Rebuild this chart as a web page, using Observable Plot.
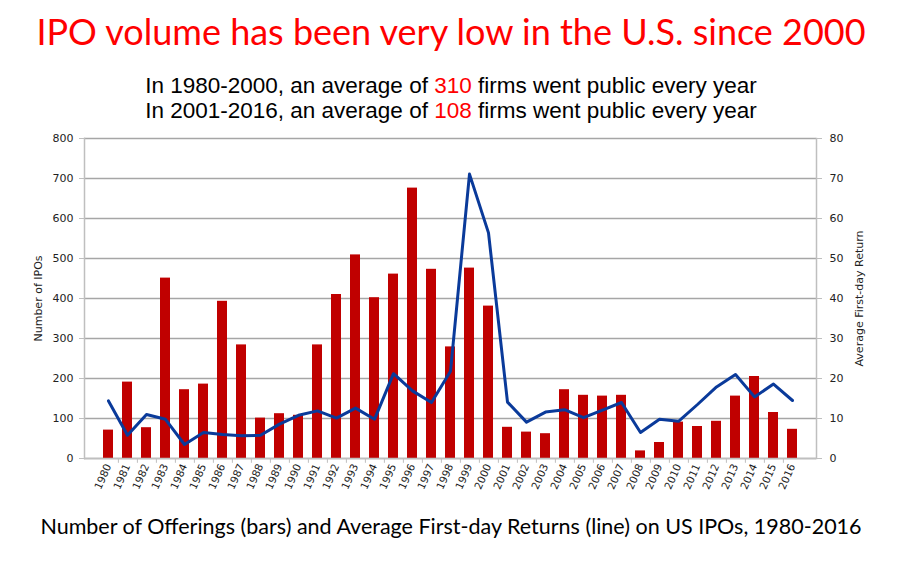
<!DOCTYPE html>
<html>
<head>
<meta charset="utf-8">
<script src="https://cdn.jsdelivr.net/npm/d3@7"></script>
<script src="https://cdn.jsdelivr.net/npm/@observablehq/plot@0.6"></script>
<style>
  html, body { margin: 0; padding: 0; background: #fff; }
  #wrap { position: relative; width: 902px; height: 564px; overflow: hidden; }
  #title { position: absolute; left: 0; width: 902px; top: 9px; text-align: center;
           font-family: Lato, sans-serif; font-size: 36px; color: #ff0000; white-space: nowrap; }
  #sub { position: absolute; left: 0; width: 902px; top: 73px; text-align: center;
         font-family: "Liberation Sans", Arial, sans-serif; font-size: 22.5px; line-height: 25px; color: #000; }
  #sub .r { color: #ff0000; }
  #chart { position: absolute; left: 0; top: 125px; }
  #cap { position: absolute; left: 0; width: 902px; top: 513px; text-align: center;
         font-family: Lato, sans-serif; font-size: 21.5px; color: #000; white-space: nowrap; }
</style>
</head>
<body>
<div id="wrap">
  <div id="title">IPO volume has been very low in the U.S. since 2000</div>
  <div id="sub">
    <div>In 1980-2000, an average of <span class="r">310</span> firms went public every year</div>
    <div>In 2001-2016, an average of <span class="r">108</span> firms went public every year</div>
  </div>
  <div id="chart"></div>
  <div id="cap">Number of Offerings (bars) and Average First-day Returns (line) on US IPOs, 1980-2016</div>
</div>
<script>
const years = [1980,1981,1982,1983,1984,1985,1986,1987,1988,1989,1990,1991,1992,1993,1994,1995,1996,1997,1998,1999,2000,2001,2002,2003,2004,2005,2006,2007,2008,2009,2010,2011,2012,2013,2014,2015,2016];
const ipoCounts = [71,191,77,451,172,186,393,284,101,112,108,284,410,509,402,461,676,473,279,476,381,78,66,62,172,158,156,158,19,40,91,80,93,156,205,115,73];
const firstDayReturns = [14.4,5.8,11.0,9.8,3.5,6.5,6.0,5.7,5.8,8.6,10.8,11.9,10.1,12.6,9.8,21.2,16.9,14.0,21.8,71.1,56.4,14.1,9.1,11.6,12.2,10.2,12.1,14.0,6.5,9.8,9.3,13.5,17.9,21.0,15.4,18.6,14.5];
const leftTicks = [0,100,200,300,400,500,600,700,800];
const rightTicks = [0,10,20,30,40,50,60,70,80];

const ratio = 10; // right axis 0-80 maps onto left axis 0-800
const rows = years.map((y, i) => ({year: String(y), count: ipoCounts[i], ret: firstDayReturns[i]}));
const yearStr = years.map(String);

const gridColor = "#a6a6a6";
const axisColor = "#bfbfbf";
const plot = Plot.plot({
  width: 902,
  height: 390,
  marginLeft: 84,
  marginRight: 86,
  marginTop: 13,
  marginBottom: 57,
  style: {fontFamily: "DejaVu Sans, sans-serif", fontSize: "11px", color: "#222", background: "transparent"},
  x: {type: "band", domain: yearStr, paddingInner: 0.45, paddingOuter: 0.225},
  y: {domain: [0, 800]},
  marks: [
    Plot.gridY(leftTicks, {stroke: gridColor, strokeOpacity: 1, strokeWidth: 1.3}),
    Plot.barY(rows, {x: "year", y: "count", fill: "#c00000"}),
    Plot.line(rows, {x: "year", y: d => d.ret * ratio, stroke: "#0a3a9a", strokeWidth: 3, strokeLinejoin: "round"}),
    Plot.ruleY([0], {stroke: axisColor, strokeWidth: 1.5}),
    Plot.frame({anchor: "left", stroke: axisColor, strokeWidth: 1.5}),
    Plot.frame({anchor: "right", stroke: axisColor, strokeWidth: 1.5}),
    Plot.axisY(leftTicks, {anchor: "left", tickSize: 5, tickPadding: 6, stroke: axisColor, fill: "#222", fontSize: 11,
      label: "Number of IPOs", labelAnchor: "center", labelArrow: "none", labelOffset: 50}),
    Plot.axisY(rightTicks.map(d => d * ratio), {anchor: "right", tickSize: 5, tickPadding: 8, stroke: axisColor, fill: "#222", fontSize: 11,
      tickFormat: d => String(d / ratio),
      label: "Average First-day Return", labelAnchor: "center", labelArrow: "none", labelOffset: 46}),
    Plot.axisX(yearStr, {tickSize: 0, tickRotate: -66, tickPadding: 6, fill: "#222", fontSize: 10.5, label: null}),
    Plot.ruleX(yearStr.slice(0, -1), {x: d => d, dx: 732 / 37 / 2, y1: 0, y2: -12, stroke: axisColor})
  ]
});
document.getElementById("chart").appendChild(plot);
</script>
</body>
</html>
